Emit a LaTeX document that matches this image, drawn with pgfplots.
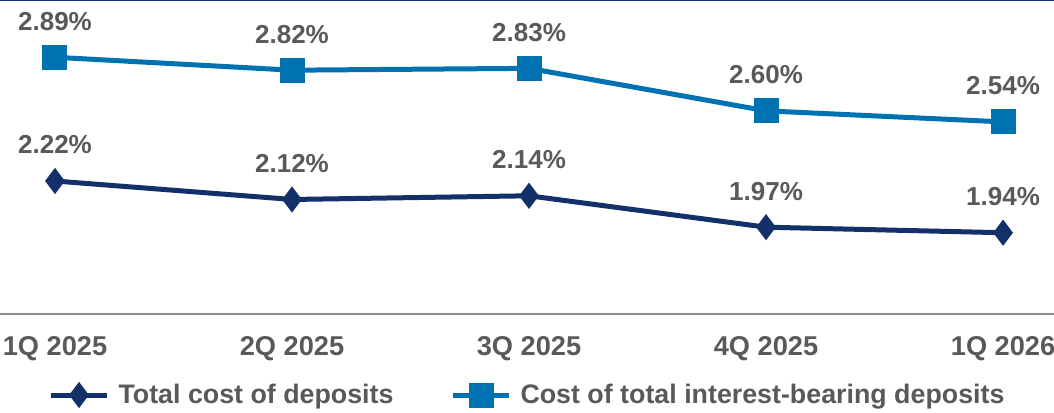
\documentclass[border=0pt]{standalone}
\usepackage{pgfplots}
\pgfplotsset{compat=1.18}
\usepackage{fontspec}
\setmainfont{Liberation Sans}
\definecolor{navy}{HTML}{14306B}
\definecolor{lblue}{HTML}{0071B1}
\definecolor{txt}{HTML}{595959}
\definecolor{axgray}{HTML}{8C8C8C}
\begin{document}
\begin{tikzpicture}
\begin{axis}[
  scale only axis,
  width=527pt, height=157pt,
  xmin=-0.232, xmax=4.215,
  ymin=1.5, ymax=3.2,
  axis x line*=bottom,
  axis y line=none,
  x axis line style={axgray, line width=1pt, -},
  xtick={0,1,2,3,4},
  xticklabels={1Q 2025,2Q 2025,3Q 2025,4Q 2025,1Q 2026},
  major tick length=0pt,
  xticklabel style={font=\fontsize{13.6}{15}\selectfont\bfseries, text=txt, yshift=-7.5pt},
  clip=false,
  nodes near coords,
  point meta=explicit symbolic,
  every node near coord/.append style={font=\fontsize{13}{15}\selectfont\bfseries, text=txt, anchor=center, yshift=18pt},
  legend columns=2,
  legend style={at={(axis description cs:0.5,0)}, anchor=center, xshift=2pt, yshift=-40.5pt, draw=none, fill=none,
    font=\fontsize{13.4}{15}\selectfont\bfseries, text=txt,
    nodes={inner xsep=4.5pt},
    /tikz/every even column/.append style={column sep=24pt}},
  legend image code/.code={\draw[mark repeat=2,mark phase=2] plot coordinates {(0pt,0pt) (14pt,0pt) (28pt,0pt)};},
]
\addplot[navy, line width=2.5pt, mark=diamond*, mark size=4.5pt, mark options={solid}] coordinates {
  (0,2.22) [2.22\%] (1,2.12) [2.12\%] (2,2.14) [2.14\%] (3,1.97) [1.97\%] (4,1.94) [1.94\%]};
\addlegendentry{Total cost of deposits}
\addplot[lblue, line width=2.5pt, mark=square*, mark size=5pt, mark options={solid}] coordinates {
  (0,2.89) [2.89\%] (1,2.82) [2.82\%] (2,2.83) [2.83\%] (3,2.60) [2.60\%] (4,2.54) [2.54\%]};
\addlegendentry{Cost of total interest-bearing deposits}
\draw[navy, line width=1.5pt] (rel axis cs:0,1) -- (rel axis cs:1,1);
\end{axis}
\pgfresetboundingbox
\path[use as bounding box] (current axis.south west) ++(0pt,-49pt) rectangle (current axis.north east);
\end{tikzpicture}
\end{document}
